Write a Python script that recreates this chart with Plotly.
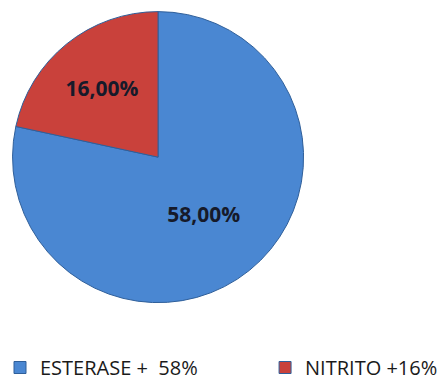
import plotly.graph_objects as go

labels = ["ESTERASE +\u00a0\u00a058%", "NITRITO +16%"]
values = [58, 16]
text_labels = ["58,00%", "16,00%"]
colors = ["#4a87d2", "#c9413b"]

# legend spacing: first entry padded so second entry sits at right side
legend_labels = [labels[0] + "\u00a0" * 12, labels[1]]

fig = go.Figure(go.Pie(
    labels=legend_labels,
    values=values,
    text=text_labels,
    textinfo="text",
    textposition="inside",
    insidetextorientation="horizontal",
    sort=False,
    direction="clockwise",
    rotation=0,
    marker=dict(colors=colors, line=dict(color="#2f5f9a", width=1)),
    textfont=dict(family="Open Sans", size=21, color="#161a2a", weight="bold"),
    domain=dict(x=[0.027, 0.685], y=[0.218, 0.97]),
    hoverinfo="skip",
))

fig.update_layout(
    width=444, height=387,
    margin=dict(l=0, r=0, t=0, b=0),
    paper_bgcolor="white",
    plot_bgcolor="white",
    showlegend=True,
    legend=dict(
        orientation="h",
        x=0.0, xanchor="left",
        y=0.0, yanchor="bottom",
        font=dict(family="Open Sans", size=20, color="#1a1a1a"),
        traceorder="normal",
    ),
)

fig.write_html("out.html")
